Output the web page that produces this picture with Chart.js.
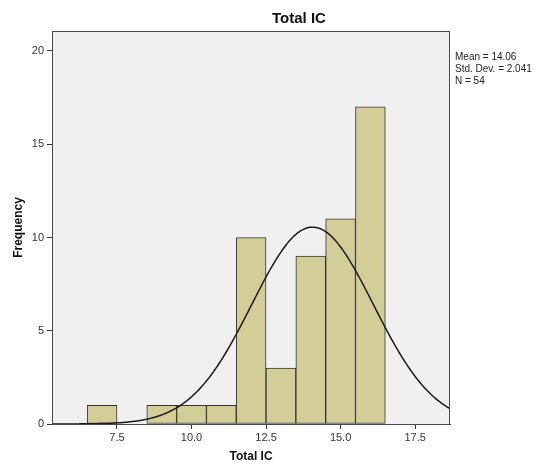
<!DOCTYPE html>
<html>
<head>
<meta charset="utf-8">
<title>Total IC</title>
<script src="https://cdn.jsdelivr.net/npm/chart.js@4/dist/chart.umd.min.js"></script>
<style>
  body { margin: 0; background: #fff; }
  canvas { display: block; }
</style>
</head>
<body>
<canvas id="histogram" width="536" height="466"></canvas>
<script>
// histogram bins (centre of each 1-point bin) and counts
let binCenters = [7, 9, 10, 11, 12, 13, 14, 15, 16];
let binCounts = [1, 1, 1, 1, 10, 3, 9, 11, 17];

// summary shown at the right of the plot
let mean = 14.06;
let stdDev = 2.041;
let total = 54;
let statsLines = ["Mean = 14.06", "Std. Dev. = 2.041", "N = 54"];

let xTicks = [7.5, 10.0, 12.5, 15.0, 17.5];
let yTicks = [0, 5, 10, 15, 20];
let xMin = 5.32, xMax = 18.67;
let yMin = 0, yMax = 21.07;

let fontFamily = "'Liberation Sans', Arial, sans-serif";

// expected frequency curve from the mean / std. dev. above
function normalCurve() {
	let points = [];
	let binWidth = 1;
	for (let x = xMin; x <= xMax + 0.001; x += 0.05) {
		let z = (x - mean) / stdDev;
		let y = total * binWidth * Math.exp(-0.5 * z * z) / (stdDev * Math.sqrt(2 * Math.PI));
		points.push({ x: x, y: y });
	}
	return points;
}

let barData = binCenters.map(function (c, i) {
	return { x: c, y: binCounts[i] };
});

// grey plot background and frame, title and stats text
let frame = {
	id: 'frame',
	beforeDatasetsDraw: function (chart) {
		let a = chart.chartArea;
		let ctx = chart.ctx;
		ctx.save();
		ctx.fillStyle = '#f0f0f0';
		ctx.fillRect(a.left, a.top, a.right - a.left, a.bottom - a.top);
		ctx.restore();
	},
	afterDraw: function (chart) {
		let a = chart.chartArea;
		let ctx = chart.ctx;
		ctx.save();
		ctx.strokeStyle = '#4a4a4a';
		ctx.lineWidth = 1;
		ctx.strokeRect(a.left + 0.5, a.top + 0.5, a.right - a.left - 1, a.bottom - a.top);

		ctx.fillStyle = '#111';
		ctx.font = 'bold 15px ' + fontFamily;
		ctx.textAlign = 'center';
		ctx.textBaseline = 'middle';
		ctx.fillText('Total IC', 299, 19);

		ctx.font = '10px ' + fontFamily;
		ctx.textAlign = 'left';
		ctx.fillStyle = '#222';
		for (let i = 0; i < statsLines.length; i++) {
			ctx.fillText(statsLines[i], 455, 57 + i * 12);
		}
		ctx.restore();
	}
};

let ctx = document.getElementById('histogram').getContext('2d');
let chart = new Chart(ctx, {
	type: 'bar',
	data: {
		datasets: [{
			type: 'line',
			data: normalCurve(),
			borderColor: '#1a1a1a',
			borderWidth: 1.5,
			pointRadius: 0,
			fill: false,
			order: 0
		}, {
			type: 'bar',
			data: barData,
			backgroundColor: 'rgb(211, 206, 152)',
			borderColor: '#333',
			borderWidth: 1,
			borderSkipped: false,
			barPercentage: 1,
			categoryPercentage: 1,
			order: 1
		}]
	},
	options: {
		responsive: false,
		devicePixelRatio: 1,
		animation: false,
		layout: { padding: { left: 0, right: 86, top: 31, bottom: 0 } },
		plugins: {
			legend: { display: false },
			tooltip: { enabled: false }
		},
		scales: {
			x: {
				type: 'linear',
				offset: false,
				min: xMin,
				max: xMax,
				afterBuildTicks: function (scale) {
					scale.ticks = xTicks.map(function (v) { return { value: v }; });
				},
				afterFit: function (scale) {
					scale.height = 42;
				},
				ticks: {
					color: '#333',
					padding: 2,
					maxRotation: 0,
					font: { family: fontFamily, size: 11 },
					callback: function (v) { return Number(v).toFixed(1); }
				},
				grid: {
					offset: false,
					drawOnChartArea: false,
					drawTicks: true,
					tickLength: 5,
					color: '#333'
				},
				border: { display: true, color: '#333' },
				title: {
					display: true,
					text: 'Total IC',
					color: '#111',
					font: { family: fontFamily, size: 12, weight: 'bold' },
					padding: { top: 0, bottom: 2 }
				}
			},
			y: {
				min: yMin,
				max: yMax,
				afterBuildTicks: function (scale) {
					scale.ticks = yTicks.map(function (v) { return { value: v }; });
				},
				afterFit: function (scale) {
					scale.width = 52;
				},
				ticks: {
					color: '#333',
					padding: 3,
					font: { family: fontFamily, size: 11 }
				},
				grid: {
					drawOnChartArea: false,
					drawTicks: true,
					tickLength: 5,
					color: '#333'
				},
				border: { display: true, color: '#333' },
				title: {
					display: true,
					text: 'Frequency',
					color: '#111',
					font: { family: fontFamily, size: 12, weight: 'bold' },
					padding: { top: 11, bottom: 0 }
				}
			}
		}
	},
	plugins: [frame]
});
</script>
</body>
</html>
